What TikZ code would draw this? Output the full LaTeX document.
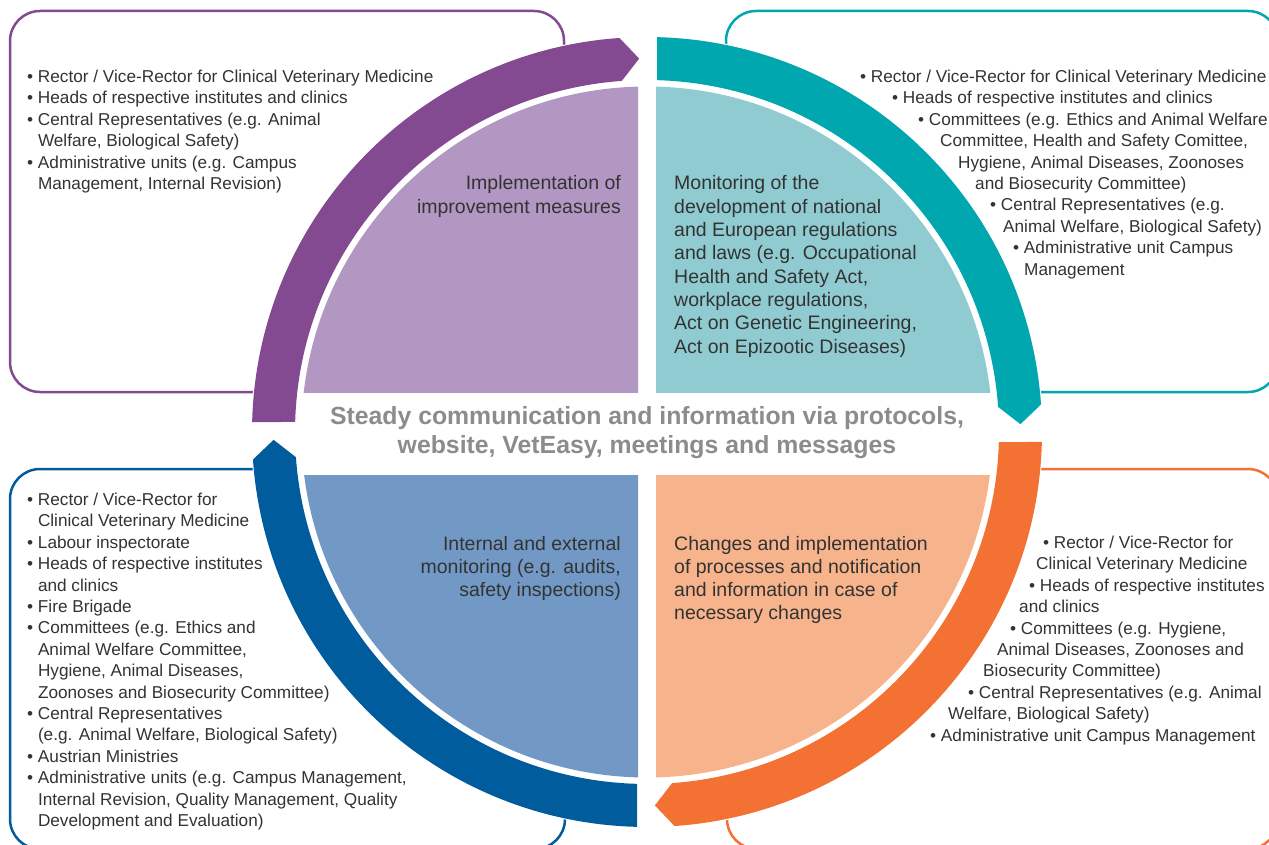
\documentclass[tikz,border=0pt]{standalone}
\usepackage{fontspec}
\setmainfont{Liberation Sans}
\definecolor{cpurple}{RGB}{131,74,145}
\definecolor{lpurple}{RGB}{179,151,195}
\definecolor{cteal}{RGB}{0,167,175}
\definecolor{lteal}{RGB}{143,203,209}
\definecolor{cblue}{RGB}{0,92,156}
\definecolor{lblue}{RGB}{114,153,198}
\definecolor{corange}{RGB}{243,113,51}
\definecolor{lorange}{RGB}{247,179,140}
\definecolor{txt}{RGB}{51,51,51}
\definecolor{cgray}{RGB}{140,140,140}
\begin{document}
\begin{tikzpicture}[x=1pt,y=1pt,
  bt/.style={font=\fontsize{17.2}{21.5}\selectfont, text=txt, inner sep=0pt, anchor=base west},
  qtl/.style={font=\fontsize{19.5}{23.3}\selectfont, text=txt, inner sep=0pt, anchor=base west},
  qtr/.style={font=\fontsize{19.5}{23.3}\selectfont, text=txt, inner sep=0pt, anchor=base east},
  boxline/.style={line width=2.5pt, rounded corners=30pt, fill=white}]
\useasboundingbox (0,0) rectangle (1269,-845);
% boxes
\draw[boxline, draw=cpurple] (10,-11) rectangle (564,-392);
\draw[boxline, draw=cteal] (726,-11) rectangle (1278,-392);
\draw[boxline, draw=cblue] (10,-469) rectangle (565,-849);
\draw[boxline, draw=corange] (727,-469) rectangle (1278,-849);
\begin{scope}[shift={(647,-432)}]
  \fill[white] (0,0) circle[radius=396pt];
  \begin{scope}\clip (-400,40) rectangle (-9,400); \fill[lpurple] (0,0) circle[radius=345.5pt];\end{scope}
  \begin{scope}\clip (9,40) rectangle (400,400); \fill[lteal] (0,0) circle[radius=345.5pt];\end{scope}
  \begin{scope}\clip (-400,-43) rectangle (-9,-400); \fill[lblue] (0,0) circle[radius=345.5pt];\end{scope}
  \begin{scope}\clip (9,-43) rectangle (400,-400); \fill[lorange] (0,0) circle[radius=345.5pt];\end{scope}
  \foreach \A/\c in {180/cpurple, 90/cteal, 0/corange, -90/cblue} {
    \fill[\c] (\A-1.45:395) arc[start angle=\A-1.45, end angle=\A-86, radius=395pt]
      -- (\A-88.8:373.5) -- (\A-85.9:352)
      arc[start angle=\A-85.9, end angle=\A-1.63, radius=352pt] -- cycle;
  }
\end{scope}
% centre text
\node[name=centre, font=\bfseries\fontsize{24.8}{29}\selectfont, text=cgray, align=center, inner sep=0pt] at (647,-432.5)
  {Steady communication and information via protocols,\\website, VetEasy, meetings and messages};
% quadrant texts
\node[qtr, name=q1a] at (621,-190) {Implementation of};
\node[qtr, name=q1b] at (621,-213.3) {improvement measures};
\node[qtl, name=q2a] at (674,-190) {Monitoring of the};
\node[qtl, name=q2b] at (674,-213.3) {development of national};
\node[qtl, name=q2c] at (674,-236.6) {and European regulations};
\node[qtl, name=q2d] at (674,-259.9) {and laws (e.g. Occupational};
\node[qtl, name=q2e] at (674,-283.2) {Health and Safety Act,};
\node[qtl, name=q2f] at (674,-306.5) {workplace regulations,};
\node[qtl, name=q2g] at (674,-329.8) {Act on Genetic Engineering,};
\node[qtl, name=q2h] at (674,-353.1) {Act on Epizootic Diseases)};
\node[qtr, name=q3a] at (621,-550) {Internal and external};
\node[qtr, name=q3b] at (621,-573.3) {monitoring (e.g. audits,};
\node[qtr, name=q3c] at (621,-596.6) {safety inspections)};
\node[qtl, name=q4a] at (674,-550) {Changes and implementation};
\node[qtl, name=q4b] at (674,-573.3) {of processes and notification};
\node[qtl, name=q4c] at (674,-596.6) {and information in case of};
\node[qtl, name=q4d] at (674,-619.9) {necessary changes};
% top-left list
\node[bt, name=a1] at (27,-82.5) {• Rector / Vice-Rector for Clinical Veterinary Medicine};
\node[bt, name=a2] at (27,-104) {• Heads of respective institutes and clinics};
\node[bt, name=a3] at (27,-125.5) {• Central Representatives (e.g. Animal};
\node[bt, name=a4] at (37.8,-147) {Welfare, Biological Safety)};
\node[bt, name=a5] at (27,-168.5) {• Administrative units (e.g. Campus};
\node[bt, name=a6] at (37.8,-190) {Management, Internal Revision)};
% top-right list
\node[bt, name=b1] at (860,-82.5) {• Rector / Vice-Rector for Clinical Veterinary Medicine};
\node[bt, name=b2] at (892,-103.9) {• Heads of respective institutes and clinics};
\node[bt, name=b3] at (918,-125.3) {• Committees (e.g. Ethics and Animal Welfare};
\node[bt, name=b4] at (940,-146.7) {Committee, Health and Safety Comittee,};
\node[bt, name=b5] at (958,-168.1) {Hygiene, Animal Diseases, Zoonoses};
\node[bt, name=b6] at (975,-189.5) {and Biosecurity Committee)};
\node[bt, name=b7] at (990,-210.9) {• Central Representatives (e.g.};
\node[bt, name=b8] at (1003,-232.3) {Animal Welfare, Biological Safety)};
\node[bt, name=b9] at (1013,-253.7) {• Administrative unit Campus};
\node[bt, name=b10] at (1024,-275.1) {Management};
% bottom-left list
\node[bt, name=c1] at (27,-505.5) {• Rector / Vice-Rector for};
\node[bt, name=c2] at (37.8,-526.9) {Clinical Veterinary Medicine};
\node[bt, name=c3] at (27,-548.3) {• Labour inspectorate};
\node[bt, name=c4] at (27,-569.7) {• Heads of respective institutes};
\node[bt, name=c5] at (37.8,-591.1) {and clinics};
\node[bt, name=c6] at (27,-612.5) {• Fire Brigade};
\node[bt, name=c7] at (27,-633.9) {• Committees (e.g. Ethics and};
\node[bt, name=c8] at (37.8,-655.3) {Animal Welfare Committee,};
\node[bt, name=c9] at (37.8,-676.7) {Hygiene, Animal Diseases,};
\node[bt, name=c10] at (37.8,-698.1) {Zoonoses and Biosecurity Committee)};
\node[bt, name=c11] at (27,-719.5) {• Central Representatives};
\node[bt, name=c12] at (37.8,-740.9) {(e.g. Animal Welfare, Biological Safety)};
\node[bt, name=c13] at (27,-762.3) {• Austrian Ministries};
\node[bt, name=c14] at (27,-783.7) {• Administrative units (e.g. Campus Management,};
\node[bt, name=c15] at (37.8,-805.1) {Internal Revision, Quality Management, Quality};
\node[bt, name=c16] at (37.8,-826.5) {Development and Evaluation)};
% bottom-right list
\node[bt, name=d1] at (1043,-548.5) {• Rector / Vice-Rector for};
\node[bt, name=d2] at (1036,-569.9) {Clinical Veterinary Medicine};
\node[bt, name=d3] at (1029,-591.3) {• Heads of respective institutes};
\node[bt, name=d4] at (1019,-612.7) {and clinics};
\node[bt, name=d5] at (1010,-634.1) {• Committees (e.g. Hygiene,};
\node[bt, name=d6] at (997,-655.5) {Animal Diseases, Zoonoses and};
\node[bt, name=d7] at (983,-676.9) {Biosecurity Committee)};
\node[bt, name=d8] at (968,-698.3) {• Central Representatives (e.g. Animal};
\node[bt, name=d9] at (948,-719.7) {Welfare, Biological Safety)};
\node[bt, name=d10] at (930,-741.1) {• Administrative unit Campus Management};
\end{tikzpicture}
\end{document}
